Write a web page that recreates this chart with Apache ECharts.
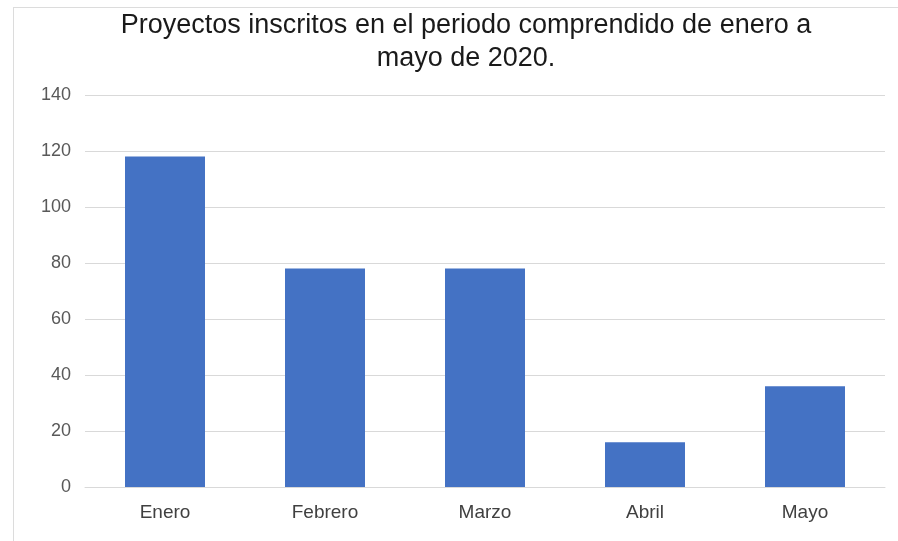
<!DOCTYPE html>
<html>
<head>
<meta charset="utf-8">
<script src="https://cdn.jsdelivr.net/npm/echarts@6/dist/echarts.min.js"></script>
<style>
    html, body { margin: 0; padding: 0; background: #fff; }
    #frame {
        position: absolute; left: 13px; top: 7px; width: 1000px; height: 1000px;
        border-top: 1px solid #dcdcdc; border-left: 1px solid #dcdcdc;
    }
    #main { position: absolute; left: 0; top: 0; width: 898px; height: 541px; }
</style>
</head>
<body>
<div id="frame"></div>
<div id="main"></div>
<script>
    // meses y proyectos inscritos
    var months = ['Enero', 'Febrero', 'Marzo', 'Abril', 'Mayo'];
    var projects = [118, 78, 78, 16, 36];
    var yTicks = [0, 20, 40, 60, 80, 100, 120, 140];

    var myChart = echarts.init(document.getElementById('main'));
    var option = {
        backgroundColor: 'transparent',
        animation: false,
        title: {
            text: 'Proyectos inscritos en el periodo comprendido de enero a\nmayo de 2020.',
            left: 461,
            top: 4,
            textAlign: 'center',
            textStyle: {
                fontFamily: 'Liberation Sans, Arial, sans-serif',
                fontSize: 27,
                fontWeight: 'normal',
                color: '#1a1a1a',
                lineHeight: 33
            }
        },
        grid: {
            left: 85,
            right: 13,
            top: 95,
            bottom: 54
        },
        xAxis: {
            type: 'category',
            data: months,
            axisLine: { lineStyle: { color: '#d9d9d9', width: 1 } },
            axisTick: { show: false },
            axisLabel: {
                margin: 16,
                fontFamily: 'Liberation Sans, Arial, sans-serif',
                fontSize: 19,
                color: '#404040'
            }
        },
        yAxis: {
            type: 'value',
            min: yTicks[0],
            max: yTicks[yTicks.length - 1],
            interval: 20,
            axisLine: { show: false },
            axisTick: { show: false },
            splitLine: { lineStyle: { color: '#d9d9d9', width: 1 } },
            axisLabel: {
                margin: 14,
                fontFamily: 'Liberation Sans, Arial, sans-serif',
                fontSize: 18,
                color: '#595959'
            }
        },
        series: [{
            type: 'bar',
            data: projects,
            barWidth: '50%',
            itemStyle: { color: '#4472c4' }
        }]
    };
    myChart.setOption(option);
</script>
</body>
</html>
